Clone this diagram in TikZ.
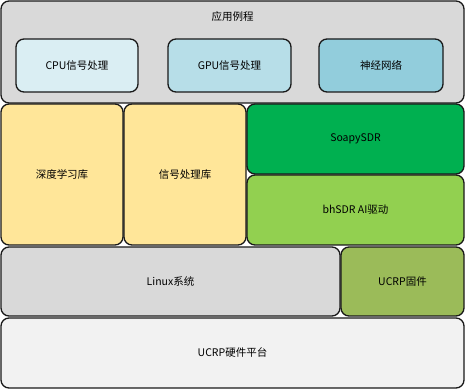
\documentclass[tikz,border=0pt]{standalone}
\usepackage{fontspec}
\setmainfont{Noto Sans CJK SC}
\begin{document}
\begin{tikzpicture}[x=1pt,y=-1pt,
  blk/.style={draw=black!90,line width=1.3pt,rounded corners=8pt,inner sep=0pt,
    font=\fontsize{10.5}{12}\selectfont,text=black},
  ttl/.style={inner sep=0pt,font=\fontsize{10.5}{12}\selectfont}]
\useasboundingbox (0,0) rectangle (467,390);
\definecolor{cApp}{HTML}{D9D9D9}
\definecolor{cCpu}{HTML}{DAEEF3}
\definecolor{cGpu}{HTML}{B7DEE8}
\definecolor{cNn}{HTML}{92CDDC}
\definecolor{cYel}{HTML}{FFE699}
\definecolor{cSoapy}{HTML}{00B050}
\definecolor{cBh}{HTML}{92D050}
\definecolor{cUcrp}{HTML}{9BBB59}
\definecolor{cHw}{HTML}{F2F2F2}
\node[blk,fill=cApp,minimum width=463,minimum height=102] (app) at (232.5,52) {};
\node[ttl] (apptitle) at (232.5,17) {应用例程};
\node[blk,fill=cCpu,minimum width=122,minimum height=53] (cpu) at (77,65.5) {CPU信号处理};
\node[blk,fill=cGpu,minimum width=123,minimum height=53] (gpu) at (229.5,65.5) {GPU信号处理};
\node[blk,fill=cNn,minimum width=124,minimum height=53] (nn) at (381,65.5) {神经网络};
\node[blk,fill=cYel,minimum width=122,minimum height=141] (dl) at (62,174.5) {深度学习库};
\node[blk,fill=cYel,minimum width=122,minimum height=141] (sig) at (185,174.5) {信号处理库};
\node[blk,fill=cSoapy,minimum width=217,minimum height=70] (soapy) at (355.5,139) {SoapySDR};
\node[blk,fill=cBh,minimum width=217,minimum height=70] (bh) at (355.5,210) {bhSDR AI驱动};
\node[blk,fill=cApp,minimum width=339,minimum height=69] (linux) at (170.5,281.5) {Linux系统};
\node[blk,fill=cUcrp,minimum width=123,minimum height=69] (ucrp) at (402.5,281.5) {UCRP固件};
\node[blk,fill=cHw,minimum width=463,minimum height=70] (hw) at (232.5,353) {UCRP硬件平台};
\end{tikzpicture}
\end{document}
